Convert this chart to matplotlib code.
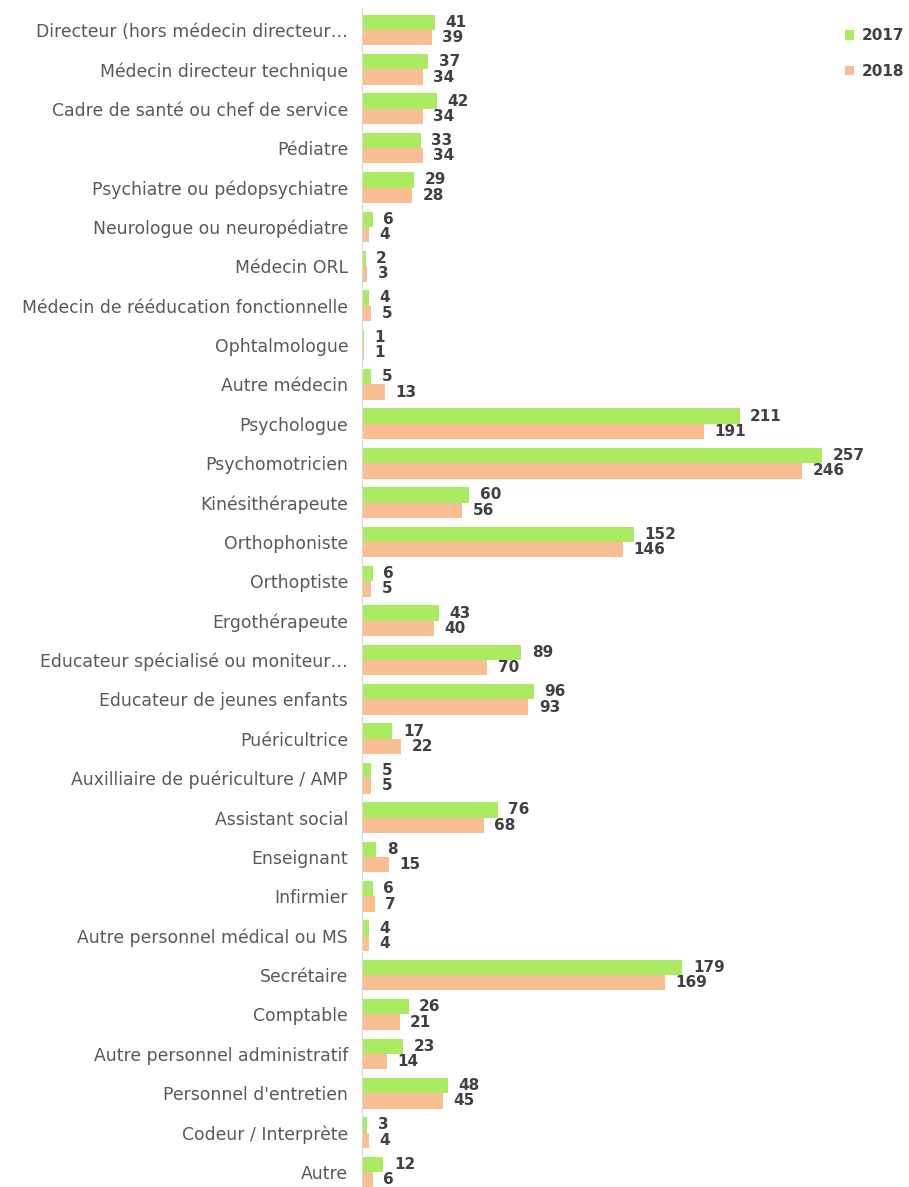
import matplotlib.pyplot as plt
import numpy as np

categories = [
    "Directeur (hors médecin directeur…",
    "Médecin directeur technique",
    "Cadre de santé ou chef de service",
    "Pédiatre",
    "Psychiatre ou pédopsychiatre",
    "Neurologue ou neuropédiatre",
    "Médecin ORL",
    "Médecin de rééducation fonctionnelle",
    "Ophtalmologue",
    "Autre médecin",
    "Psychologue",
    "Psychomotricien",
    "Kinésithérapeute",
    "Orthophoniste",
    "Orthoptiste",
    "Ergothérapeute",
    "Educateur spécialisé ou moniteur…",
    "Educateur de jeunes enfants",
    "Puéricultrice",
    "Auxilliaire de puériculture / AMP",
    "Assistant social",
    "Enseignant",
    "Infirmier",
    "Autre personnel médical ou MS",
    "Secrétaire",
    "Comptable",
    "Autre personnel administratif",
    "Personnel d'entretien",
    "Codeur / Interprète",
    "Autre",
]
values_2017 = [41, 37, 42, 33, 29, 6, 2, 4, 1, 5, 211, 257, 60, 152, 6, 43, 89, 96,
               17, 5, 76, 8, 6, 4, 179, 26, 23, 48, 3, 12]
values_2018 = [39, 34, 34, 34, 28, 4, 3, 5, 1, 13, 191, 246, 56, 146, 5, 40, 70, 93,
               22, 5, 68, 15, 7, 4, 169, 21, 14, 45, 4, 6]
series_names = ["2017", "2018"]

green = "#ABEB62"
orange = "#F9BF92"
label_color = "#595959"
value_color = "#404040"

plt.rcParams['font.family'] = ['DejaVu Sans']

fig = plt.figure(figsize=(9.09, 11.87), dpi=100)
W, H = 909, 1187
ax = fig.add_axes([362 / W, 0, (905 - 362) / W, 1 - 8 / H])

y = np.arange(len(categories))
h = 0.39
ax.barh(y - h / 2, values_2017, height=h, color=green, label=series_names[0])
ax.barh(y + h / 2, values_2018, height=h, color=orange, label=series_names[1])

for yi, v in zip(y, values_2017):
    ax.annotate(str(v), (v, yi - h / 2), xytext=(7.5, 0), textcoords="offset points",
                va="center", ha="left", fontsize=11, fontweight="bold", color=value_color)
for yi, v in zip(y, values_2018):
    ax.annotate(str(v), (v, yi + h / 2), xytext=(7.5, 0), textcoords="offset points",
                va="center", ha="left", fontsize=11, fontweight="bold", color=value_color)

ax.set_xlim(0, (905 - 362) / 1.79)
ax.set_ylim(29 + 15 / 39.38, -22 / 39.38)
ax.set_yticks(y)
ax.set_yticklabels(categories, fontsize=12.4, color=label_color)
ax.tick_params(axis="y", length=0, pad=10)
ax.set_xticks([])
for s in ["top", "right", "bottom"]:
    ax.spines[s].set_visible(False)
ax.spines["left"].set_color("#d9d9d9")

leg = ax.legend(loc="upper right", bbox_to_anchor=(1.01, 0.988), frameon=False,
                borderaxespad=0, handlelength=0.6, handleheight=0.6, handletextpad=0.5,
                labelspacing=1.35, prop={"weight": "bold", "size": 11})
for t in leg.get_texts():
    t.set_color(value_color)

fig.savefig("out.png", dpi=100)
